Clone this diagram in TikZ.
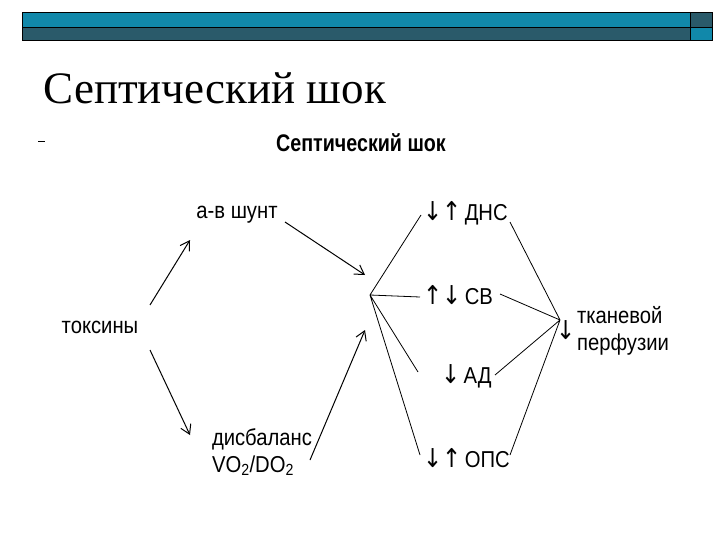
\documentclass[tikz,border=0pt]{standalone}
\usepackage{fontspec}
\setmainfont{Liberation Serif}
\newfontfamily\lsans{Liberation Sans}
\newfontfamily\arrfont{DejaVu Sans}
\usetikzlibrary{arrows.meta}
\definecolor{teal1}{HTML}{1188AA}
\definecolor{dark1}{HTML}{2A5A6A}
\newcommand{\ar}[1]{{\arrfont\fontsize{26}{26}\selectfont #1}}
\begin{document}
\begin{tikzpicture}[x=1pt,y=-1pt,
  lab/.style={font=\lsans\fontsize{23}{27}\selectfont,inner sep=1pt,xscale=0.88},
  ln/.style={line width=0.8pt},
  arr/.style={line width=1pt,-{Straight Barb[length=9pt,width=11pt]}}]
\useasboundingbox (0,0) rectangle (720,540);
\fill[teal1] (22,12) rectangle (690,27);
\fill[dark1] (22,27) rectangle (690,40);
\fill[dark1] (690,12) rectangle (712,27);
\fill[teal1] (690,27) rectangle (712,40);
\draw[black,line width=0.8pt] (22,12) rectangle (712,40) (690,12)--(690,40) (22,27)--(712,27);
\node[anchor=west,font=\fontsize{45}{50}\selectfont] (title) at (40,88) {Септический шок};
\draw (38,141)--(45,141);
\node[font=\lsans\bfseries\fontsize{24}{26}\selectfont,xscale=0.82] (sub) at (361,143) {Септический шок};
\node[lab] (tox) at (100,327) {токсины};
\node[lab] (shunt) at (237,215) {а-в шунт};
\node[lab,align=left] (dis) at (262,452) {дисбаланс\\VO\textsubscript{2}/DO\textsubscript{2}};
\node[lab,anchor=west] (dns) at (422,213) {\ar{↓↑}\,ДНС};
\node[lab,anchor=west] (sv) at (422,295) {\ar{↑↓}\,СВ};
\node[lab,anchor=west] (ad) at (440,376) {\ar{↓}\,АД};
\node[lab,anchor=west] (ops) at (422,458) {\ar{↓↑}\,ОПС};
\node[lab,anchor=west] (arrp) at (555,330) {\ar{↓}};
\node[lab,anchor=west,align=left] (perf) at (576,331) {тканевой\\перфузии};
\coordinate (hub) at (370,295);
\coordinate (sink) at (560,320);
\coordinate (s1) at (150,305); \coordinate (e1) at (190,240);
\coordinate (s2) at (150,350); \coordinate (e2) at (190,435);
\coordinate (s3) at (285,222); \coordinate (e3) at (365,275);
\coordinate (s4) at (310,460); \coordinate (e4) at (365,330);
\draw[arr] (s1)--(e1);
\draw[arr] (s2)--(e2);
\draw[arr] (s3)--(e3);
\draw[arr] (s4)--(e4);
\coordinate (d1) at (421,215); \coordinate (d2) at (420,297);
\coordinate (d3) at (418,372); \coordinate (d4) at (420,455);
\draw[ln] (hub)--(d1) (hub)--(d2) (hub)--(d3) (hub)--(d4);
\coordinate (r1) at (510,222); \coordinate (r2) at (500,294);
\coordinate (r3) at (495,375); \coordinate (r4) at (510,455);
\draw[ln] (r1)--(sink) (r2)--(sink) (r3)--(sink) (r4)--(sink);
\end{tikzpicture}
\end{document}
